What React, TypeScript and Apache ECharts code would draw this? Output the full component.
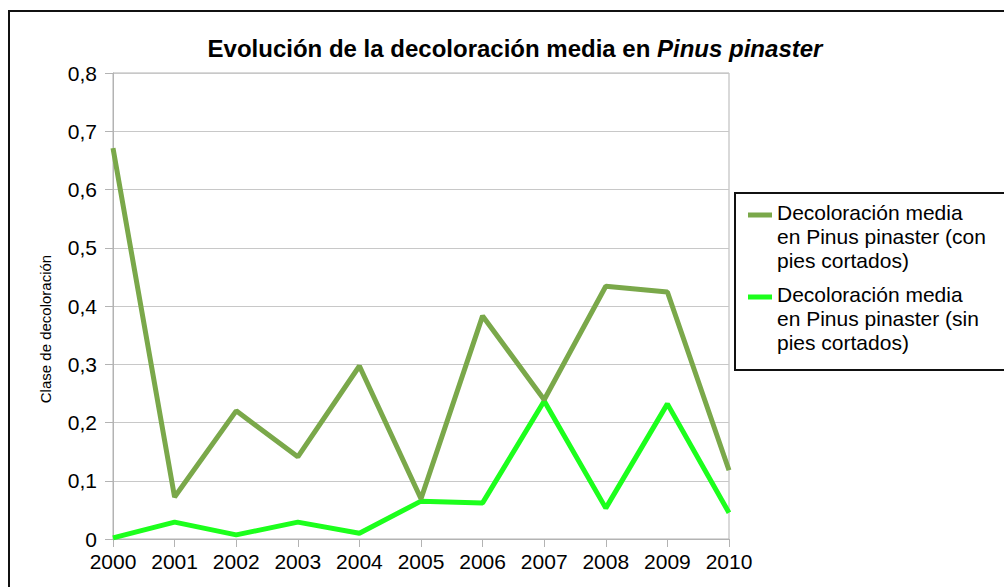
import React, { useEffect, useRef } from "react";
import * as echarts from "echarts";

const years = ["2000", "2001", "2002", "2003", "2004", "2005", "2006", "2007", "2008", "2009", "2010"];
const conPies = [0.671, 0.072, 0.22, 0.141, 0.297, 0.069, 0.383, 0.239, 0.434, 0.424, 0.118];
const sinPies = [0.002, 0.029, 0.007, 0.029, 0.01, 0.065, 0.062, 0.237, 0.053, 0.232, 0.045];
const seriesNames = [
  "Decoloración media\nen Pinus pinaster (con\npies cortados)",
  "Decoloración media\nen Pinus pinaster (sin\npies cortados)",
];
const colors = ["#7aa84a", "#1cff1c"];

const FONT = "'Liberation Sans', Arial, sans-serif";
// legend icon: a bar at the top of a tall invisible box so it sits on the first text line
const LEGEND_ICON = "path://M0,0L24,0L24,5L0,5Z M0,47L0.01,47L0.01,47.01Z";

export default function App() {
  const ref = useRef<HTMLDivElement>(null);
  useEffect(() => {
    document.body.style.margin = "0";
    const chart = echarts.init(ref.current!, null, { renderer: "svg" });
    chart.setOption({
      animation: false,
      backgroundColor: "#fff",
      title: {
        text: "{a|Evolución de la decoloración media en }{b|Pinus pinaster}",
        left: 510,
        top: 31,
        textAlign: "center",
        textStyle: {
          rich: {
            a: { fontFamily: FONT, fontSize: 24, fontWeight: "bold", color: "#000" },
            b: { fontFamily: FONT, fontSize: 24, fontWeight: "bold", fontStyle: "italic", color: "#000" },
          },
        },
      },
      legend: {
        data: seriesNames,
        left: 743,
        top: 195,
        orient: "vertical",
        icon: LEGEND_ICON,
        itemWidth: 24,
        itemHeight: 52,
        itemGap: 10,
        textStyle: { fontFamily: FONT, fontSize: 21, lineHeight: 24, color: "#000" },
        selectedMode: false,
      },
      grid: {
        left: 113,
        right: 275,
        top: 73,
        bottom: 48,
        show: true,
        borderColor: "#b3b3b3",
        borderWidth: 1,
      },
      xAxis: {
        type: "category",
        data: years,
        boundaryGap: false,
        axisLine: { lineStyle: { color: "#b3b3b3", width: 1 } },
        axisTick: { show: true, length: 8, lineStyle: { color: "#b3b3b3" } },
        axisLabel: { fontFamily: FONT, fontSize: 21, color: "#000", margin: 12 },
        splitLine: { show: false },
      },
      yAxis: {
        type: "value",
        min: 0,
        max: 0.8,
        interval: 0.1,
        name: "Clase de decoloración",
        nameLocation: "middle",
        nameGap: 60,
        nameRotate: 90,
        nameTextStyle: { fontFamily: FONT, fontSize: 15, color: "#000", padding: [0, 46, 0, 0] },
        axisLine: { show: true, lineStyle: { color: "#b3b3b3", width: 1 } },
        axisTick: { show: true, length: 8, lineStyle: { color: "#b3b3b3" } },
        axisLabel: {
          fontFamily: FONT,
          fontSize: 21,
          color: "#000",
          margin: 16,
          formatter: (v: number) => (v === 0 ? "0" : v.toFixed(1).replace(".", ",")),
        },
        splitLine: { show: true, lineStyle: { color: "#c8c8c8", width: 1 } },
      },
      series: [
        {
          name: seriesNames[0],
          type: "line",
          data: conPies,
          showSymbol: false,
          symbol: "none",
          lineStyle: { color: colors[0], width: 5 },
          itemStyle: { color: colors[0] },
          z: 3,
        },
        {
          name: seriesNames[1],
          type: "line",
          data: sinPies,
          showSymbol: false,
          symbol: "none",
          lineStyle: { color: colors[1], width: 5 },
          itemStyle: { color: colors[1] },
          z: 2,
        },
      ],
      graphic: [
        {
          type: "rect",
          shape: { x: 9, y: 11, width: 1100, height: 700 },
          style: { fill: "none", stroke: "#111", lineWidth: 2 },
          silent: true,
        },
        {
          type: "rect",
          shape: { x: 735, y: 193, width: 400, height: 177 },
          style: { fill: "none", stroke: "#111", lineWidth: 2 },
          silent: true,
        },
      ],
    });
    return () => chart.dispose();
  }, []);
  return <div ref={ref} style={{ width: 1004, height: 587 }} />;
}
